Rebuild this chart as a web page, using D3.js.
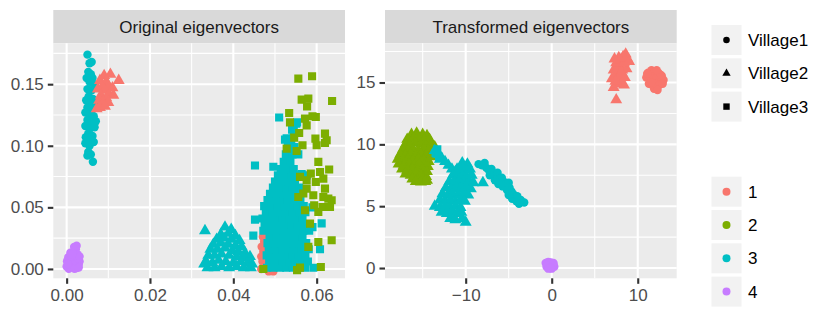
<!DOCTYPE html>
<html>
<head>
<meta charset="utf-8">
<script src="https://cdn.jsdelivr.net/npm/d3@7"></script>
<style>
  body { margin: 0; background: #fff; }
  text { font-family: "Liberation Sans", Arial, sans-serif; }
</style>
</head>
<body>
<svg id="chart" width="830" height="312"></svg>
<script>
// categories
var villages = ["Village1", "Village2", "Village3"];
var clusters = ["1", "2", "3", "4"];
var panelTitles = ["Original eigenvectors", "Transformed eigenvectors"];

// ticks
var origXTicks = [0, 0.02, 0.04, 0.06];
var origXMinor = [0.01, 0.03, 0.05];
var origYTicks = [0, 0.05, 0.10, 0.15];
var origYMinor = [0.025, 0.075, 0.125, 0.175];
var transXTicks = [-10, 0, 10];
var transXMinor = [-15, -5, 5];
var transYTicks = [0, 5, 10, 15];
var transYMinor = [2.5, 7.5, 12.5, 17.5];

// ---- original eigenvectors ----
var origV1C4 = [[0.0000,0.0020],[0.0006,0.0008],[0.0012,0.0030],[0.0018,0.0015],[0.0024,0.0008],[0.0029,0.0035],
  [0.0031,0.0060],[0.0001,0.0062],[0.0009,0.0052],[0.0016,0.0072],[0.0023,0.0060],[0.0028,0.0085],[0.0004,0.0095],
  [0.0012,0.0102],[0.0020,0.0110],[0.0026,0.0120],[0.0009,0.0132],[0.0017,0.0140],[0.0022,0.0160],[0.0018,0.0178],
  [0.0024,0.0188],[0.0031,0.0102],[0.0005,0.0002],[0.0019,0.0001],[0.0029,0.0012],[0.0014,0.0120],[0.0003,0.0040]];

var origV1C3 = [[0.0050,0.174],[0.0055,0.167],[0.0060,0.168],[0.0052,0.160],[0.0058,0.158],[0.0062,0.155],
  [0.0048,0.155],[0.0055,0.152],[0.0065,0.150],[0.0050,0.146],[0.0060,0.145],[0.0068,0.148],[0.0053,0.140],
  [0.0063,0.138],[0.0047,0.137],[0.0058,0.134],[0.0068,0.135],[0.0050,0.131],[0.0060,0.129],[0.0045,0.127],
  [0.0055,0.125],[0.0065,0.124],[0.0070,0.120],[0.0050,0.121],[0.0060,0.118],[0.0045,0.116],[0.0056,0.114],
  [0.0067,0.115],[0.0052,0.110],[0.0062,0.108],[0.0046,0.107],[0.0058,0.105],[0.0045,0.102],[0.0055,0.100],
  [0.0065,0.103],[0.0052,0.095],[0.0058,0.093],[0.0050,0.092],[0.0063,0.087]];

var origV2C1 = [[0.0090,0.157],[0.0105,0.158],[0.0080,0.153],[0.0095,0.152],[0.0125,0.153],[0.0100,0.149],
  [0.0085,0.148],[0.0110,0.147],[0.0075,0.146],[0.0092,0.145],[0.0102,0.142],[0.0082,0.141],[0.0112,0.141],
  [0.0095,0.139],[0.0078,0.137],[0.0088,0.136],[0.0100,0.135],[0.0085,0.133],[0.0072,0.130],[0.0080,0.131],
  [0.0092,0.132]];

var origV1C1 = [[0.0471,0.026],[0.0474,0.022],[0.0468,0.018],[0.0472,0.014],[0.0467,0.010],[0.0470,0.006],
  [0.0473,0.002],[0.0485,-0.002],[0.0496,-0.002],[0.0467,0.000]];

var origV2C3 = [[0.0332,0.031],[0.0380,0.034],[0.0395,0.032],[0.0370,0.028],[0.0388,0.029],[0.0405,0.027],
  [0.0360,0.024],[0.0378,0.025],[0.0395,0.024],[0.0415,0.023],[0.0352,0.020],[0.0370,0.021],[0.0388,0.020],
  [0.0405,0.019],[0.0420,0.018],[0.0345,0.016],[0.0362,0.016],[0.0380,0.017],[0.0398,0.015],[0.0412,0.014],
  [0.0428,0.013],[0.0340,0.011],[0.0355,0.011],[0.0372,0.012],[0.0390,0.011],[0.0408,0.010],[0.0425,0.009],
  [0.0440,0.010],[0.0335,0.006],[0.0350,0.005],[0.0365,0.007],[0.0382,0.006],[0.0400,0.005],[0.0418,0.006],
  [0.0435,0.005],[0.0445,0.004],[0.0338,0.001],[0.0355,0.001],[0.0372,0.002],[0.0390,0.001],[0.0408,0.002],
  [0.0425,0.001],[0.0442,0.001],[0.0330,0.004]];

var origV3C3 = [
  [0.0481,0.001],[0.0496,0.001],[0.0512,0.001],[0.0527,0.001],[0.0543,0.001],[0.0558,0.001],[0.0572,0.001],
  [0.0486,0.006],[0.0502,0.006],[0.0518,0.006],[0.0534,0.006],[0.0549,0.006],[0.0565,0.006],[0.0579,0.006],
  [0.0480,0.011],[0.0495,0.011],[0.0511,0.011],[0.0526,0.011],[0.0542,0.011],[0.0557,0.011],[0.0573,0.011],
  [0.0485,0.016],[0.0501,0.016],[0.0517,0.016],[0.0532,0.016],[0.0548,0.016],[0.0563,0.016],[0.0581,0.016],
  [0.0482,0.021],[0.0497,0.021],[0.0513,0.021],[0.0528,0.021],[0.0544,0.021],[0.0559,0.021],[0.0575,0.021],
  [0.0487,0.026],[0.0503,0.026],[0.0519,0.026],[0.0535,0.026],[0.0550,0.026],[0.0566,0.026],
  [0.0472,0.031],[0.0488,0.031],[0.0504,0.031],[0.0520,0.031],[0.0536,0.031],[0.0552,0.031],[0.0568,0.031],[0.0582,0.031],
  [0.0475,0.036],[0.0491,0.036],[0.0507,0.036],[0.0523,0.036],[0.0539,0.036],[0.0555,0.036],[0.0571,0.036],
  [0.0470,0.041],[0.0486,0.041],[0.0502,0.041],[0.0518,0.041],[0.0534,0.041],[0.0550,0.041],[0.0566,0.041],
  [0.0478,0.046],[0.0494,0.046],[0.0510,0.046],[0.0526,0.046],[0.0542,0.046],[0.0558,0.046],[0.0573,0.046],
  [0.0474,0.051],[0.0490,0.051],[0.0506,0.051],[0.0522,0.051],[0.0538,0.051],[0.0554,0.051],[0.0569,0.051],
  [0.0482,0.056],[0.0498,0.056],[0.0514,0.056],[0.0530,0.056],[0.0546,0.056],[0.0561,0.056],
  [0.0488,0.061],[0.0504,0.061],[0.0520,0.061],[0.0536,0.061],[0.0552,0.061],
  [0.0495,0.066],[0.0511,0.066],[0.0527,0.066],[0.0543,0.066],[0.0558,0.066],
  [0.0500,0.071],[0.0516,0.071],[0.0532,0.071],[0.0548,0.071],
  [0.0507,0.076],[0.0523,0.076],[0.0539,0.076],[0.0553,0.076],
  [0.0514,0.081],[0.0530,0.081],[0.0545,0.081],
  [0.0521,0.087],[0.0537,0.087],[0.0526,0.093],[0.0542,0.093],[0.0556,0.093],
  [0.0531,0.099],[0.0547,0.099],[0.0524,0.105],[0.0539,0.105],[0.0545,0.112],[0.0551,0.118],
  [0.0452,0.084],[0.0510,0.123],[0.0496,0.083],[0.0521,0.081],[0.0553,0.119],[0.0541,0.113],[0.0528,0.106],
  [0.0452,0.040],[0.0448,0.027],[0.0592,0.001],[0.0608,0.016],[0.0590,0.034],[0.0612,0.037],[0.0590,0.050],
  [0.0576,0.076],[0.0564,0.077]];

var origV3C2 = [[0.0556,0.1545],[0.0589,0.1564],[0.0637,0.1364],[0.0564,0.1375],[0.0580,0.1383],[0.0577,0.1320],
  [0.0534,0.1266],[0.0572,0.1220],[0.0590,0.1240],[0.0598,0.1234],[0.0536,0.1190],[0.0576,0.1166],[0.0558,0.1104],
  [0.0546,0.1066],[0.0528,0.0977],[0.0552,0.0958],[0.0566,0.1004],[0.0597,0.1058],[0.0600,0.1004],[0.0620,0.1099],
  [0.0624,0.1045],[0.0620,0.1023],[0.0604,0.0869],[0.0630,0.0807],[0.0586,0.0774],[0.0608,0.0787],[0.0616,0.0733],
  [0.0598,0.0706],[0.0576,0.0720],[0.0620,0.0652],[0.0628,0.0571],[0.0636,0.0558],[0.0616,0.0584],[0.0592,0.0598],
  [0.0568,0.0612],[0.0556,0.0584],[0.0572,0.0476],[0.0594,0.0517],[0.0604,0.0463],[0.0584,0.0368],[0.0636,0.0233],
  [0.0610,0.0016],[0.0604,0.0219],[0.0560,0.0011],[0.0580,0.0179],[0.0614,0.0503],[0.0560,0.0747],[0.0576,0.0652],
  [0.0632,0.0503],[0.0472,0.0000],[0.0553,-0.0010]];

// ---- transformed eigenvectors ----
var transV1C4 = [[-0.7,0.40],[-0.4,0.50],[-0.1,0.45],[0.2,0.30],[0.3,0.10],[-0.6,0.10],[-0.3,0.00],[0.0,-0.05],
  [-0.5,0.30],[-0.2,0.20],[0.1,0.15],[-0.4,-0.05],[0.2,0.40],[-0.1,0.00]];

var transV1C1 = [[11.2,15.8],[11.6,16.0],[12.0,15.9],[12.4,15.8],[12.8,15.5],[13.0,15.2],[11.0,15.4],[11.4,15.3],
  [11.8,15.5],[12.2,15.4],[12.6,15.2],[11.3,14.9],[11.7,14.8],[12.1,14.9],[12.5,14.8],[12.9,14.9],[11.9,14.5],
  [12.3,14.4],[11.6,15.0],[12.7,15.6],[11.1,15.7],[12.2,16.0]];

var transV2C1 = [[7.5,13.6],[7.2,14.6],[7.6,14.9],[8.0,15.0],[8.4,14.8],[7.0,15.3],[7.4,15.6],[7.9,15.5],[8.5,15.4],
  [7.2,16.0],[7.7,16.2],[8.2,16.0],[8.7,16.1],[7.5,16.6],[8.0,16.8],[8.4,16.6],[8.8,16.9],[8.6,17.3],[9.0,16.7],
  [8.3,17.1],[7.8,17.0],[7.3,16.9],[8.1,15.8],[7.4,15.1]];

var transV2C2 = [
  [-16.3,10.8],[-15.7,10.9],[-15.0,10.8],[-14.5,10.7],
  [-16.8,10.4],[-16.0,10.5],[-15.4,10.4],[-14.8,10.3],[-14.2,10.4],
  [-17.0,10.0],[-16.5,9.9],[-15.9,10.1],[-15.2,10.0],[-14.6,9.9],[-14.0,10.0],[-13.6,9.8],
  [-17.3,9.6],[-16.7,9.5],[-16.1,9.6],[-15.5,9.5],[-14.9,9.6],[-14.3,9.5],[-13.8,9.4],
  [-17.6,9.2],[-17.0,9.1],[-16.4,9.2],[-15.8,9.1],[-15.2,9.2],[-14.6,9.1],[-14.1,9.0],
  [-17.9,8.8],[-17.3,8.7],[-16.7,8.8],[-16.1,8.7],[-15.5,8.8],[-14.9,8.7],[-14.3,8.6],
  [-17.8,8.4],[-17.2,8.3],[-16.6,8.4],[-16.0,8.3],[-15.4,8.4],[-14.8,8.3],[-14.4,8.2],
  [-17.4,8.0],[-16.8,7.9],[-16.2,8.0],[-15.6,7.9],[-15.0,8.0],[-14.5,7.8],
  [-17.0,7.6],[-16.4,7.5],[-15.8,7.6],[-15.2,7.5],[-14.6,7.4],
  [-16.2,7.2],[-15.6,7.1],[-15.0,7.2],[-14.5,7.1],[-15.8,7.0],[-15.2,6.95],[-14.7,7.0]];

var transV2C3 = [
  [-13.6,9.5],[-13.2,9.2],[-12.8,8.9],[-12.4,8.6],[-12.0,8.3],[-11.6,8.0],[-11.2,7.8],[-10.8,7.6],[-13.0,8.8],
  [-10.4,8.5],[-9.8,8.4],
  [-11.0,8.0],[-10.5,8.0],[-10.0,7.9],[-9.5,8.0],
  [-11.5,7.5],[-11.0,7.4],[-10.4,7.5],[-9.9,7.4],[-9.3,7.5],
  [-11.9,7.0],[-11.3,6.9],[-10.8,7.0],[-10.2,6.9],[-9.6,7.0],[-9.1,6.9],
  [-12.3,6.5],[-11.7,6.4],[-11.1,6.5],[-10.5,6.4],[-10.0,6.5],[-9.4,6.4],
  [-12.7,6.0],[-12.1,5.9],[-11.5,6.0],[-10.9,5.9],[-10.3,6.0],[-9.7,5.9],
  [-13.0,5.5],[-12.4,5.4],[-11.8,5.5],[-11.2,5.4],[-10.6,5.5],[-10.1,5.4],
  [-13.6,5.0],[-13.0,4.9],[-12.4,5.0],[-11.8,4.9],[-11.2,5.0],[-10.6,4.9],
  [-12.8,4.5],[-12.2,4.4],[-11.6,4.5],[-11.0,4.4],[-10.5,4.5],
  [-11.8,4.0],[-11.2,3.9],[-10.4,4.0],[-10.0,3.7],[-8.0,6.9]];

var transV3C3 = [[-13.5,9.3],[-13.1,9.0],[-13.3,9.6]];

var transV1C3 = [[-8.5,8.4],[-8.1,8.3],[-7.8,8.5],[-7.6,8.1],[-7.3,7.9],[-7.0,8.0],[-6.8,7.6],[-6.5,7.5],
  [-6.3,7.7],[-6.1,7.2],[-5.8,7.3],[-5.6,7.0],[-5.3,6.8],[-5.0,6.9],[-4.9,6.5],[-5.7,6.6],[-6.2,6.8],[-4.7,6.2],
  [-4.5,6.0],[-4.3,5.7],[-4.6,5.6],[-4.1,5.4],[-3.8,5.2],[-3.2,5.3],[-3.6,5.5],[-5.2,6.3],[-6.6,7.1],[-7.2,7.5],
  [-5.0,5.9],[-4.0,5.8]];

// layers in drawing order
var layers = [
  {panel: 0, village: "Village1", cluster: "4", pts: origV1C4},
  {panel: 0, village: "Village1", cluster: "3", pts: origV1C3},
  {panel: 0, village: "Village2", cluster: "1", pts: origV2C1},
  {panel: 0, village: "Village1", cluster: "1", pts: origV1C1},
  {panel: 0, village: "Village2", cluster: "3", pts: origV2C3},
  {panel: 0, village: "Village3", cluster: "3", pts: origV3C3},
  {panel: 0, village: "Village3", cluster: "2", pts: origV3C2},
  {panel: 1, village: "Village1", cluster: "4", pts: transV1C4},
  {panel: 1, village: "Village1", cluster: "1", pts: transV1C1},
  {panel: 1, village: "Village2", cluster: "1", pts: transV2C1},
  {panel: 1, village: "Village2", cluster: "2", pts: transV2C2},
  {panel: 1, village: "Village2", cluster: "3", pts: transV2C3},
  {panel: 1, village: "Village3", cluster: "3", pts: transV3C3},
  {panel: 1, village: "Village1", cluster: "3", pts: transV1C3}
];

var color = d3.scaleOrdinal().domain(clusters)
  .range(["#F8766D", "#7CAE00", "#00BFC4", "#C77CFF"]);
var shape = d3.scaleOrdinal().domain(villages)
  .range([d3.symbolCircle, d3.symbolTriangle, d3.symbolSquare]);
var pointSize = d3.scaleOrdinal().domain(villages).range([56, 62, 66]);
var keySize = d3.scaleOrdinal().domain(villages).range([34, 30, 41]);

var TOP = 43.3, BOTTOM = 278.3, STRIP_TOP = 10;
var FONT = 17;

var panels = [
  {
    title: panelTitles[0],
    x: d3.scaleLinear().domain([-0.0032, 0.0668]).range([53.3, 345]),
    y: d3.scaleLinear().domain([-0.0076, 0.1832]).range([BOTTOM, TOP]),
    xt: origXTicks, xm: origXMinor, yt: origYTicks, ym: origYMinor,
    xf: d3.format(".2f"), yf: d3.format(".2f")
  },
  {
    title: panelTitles[1],
    x: d3.scaleLinear().domain([-19.38, 14.53]).range([385, 676.7]),
    y: d3.scaleLinear().domain([-0.83, 18.17]).range([BOTTOM, TOP]),
    xt: transXTicks, xm: transXMinor, yt: transYTicks, ym: transYMinor,
    xf: d3.format("d"), yf: d3.format("d")
  }
];

var svg = d3.select("#chart");

panels.forEach(function(p, i) {
  var x0 = p.x.range()[0], x1 = p.x.range()[1];
  var g = svg.append("g");

  // strip
  g.append("rect")
    .attr("x", x0).attr("y", STRIP_TOP)
    .attr("width", x1 - x0).attr("height", TOP - STRIP_TOP)
    .attr("fill", "#D9D9D9");
  g.append("text")
    .attr("x", (x0 + x1) / 2).attr("y", (STRIP_TOP + TOP) / 2)
    .attr("dy", "0.36em")
    .attr("text-anchor", "middle")
    .attr("font-size", FONT)
    .attr("fill", "#1A1A1A")
    .text(p.title);

  // panel background
  g.append("rect")
    .attr("x", x0).attr("y", TOP)
    .attr("width", x1 - x0).attr("height", BOTTOM - TOP)
    .attr("fill", "#EBEBEB");

  // grid
  var grid = g.append("g").attr("stroke", "#fff");
  grid.selectAll(".vm").data(p.xm).enter().append("line")
    .attr("x1", p.x).attr("x2", p.x).attr("y1", TOP).attr("y2", BOTTOM)
    .attr("stroke-width", 1.05);
  grid.selectAll(".hm").data(p.ym).enter().append("line")
    .attr("y1", p.y).attr("y2", p.y).attr("x1", x0).attr("x2", x1)
    .attr("stroke-width", 1.05);
  grid.selectAll(".vM").data(p.xt).enter().append("line")
    .attr("x1", p.x).attr("x2", p.x).attr("y1", TOP).attr("y2", BOTTOM)
    .attr("stroke-width", 2.1);
  grid.selectAll(".hM").data(p.yt).enter().append("line")
    .attr("y1", p.y).attr("y2", p.y).attr("x1", x0).attr("x2", x1)
    .attr("stroke-width", 2.1);

  // points
  svg.append("clipPath").attr("id", "clip" + i)
    .append("rect").attr("x", x0).attr("y", TOP)
    .attr("width", x1 - x0).attr("height", BOTTOM - TOP);
  var pg = g.append("g").attr("clip-path", "url(#clip" + i + ")");
  layers.filter(function(l) { return l.panel === i; }).forEach(function(l) {
    var sym = d3.symbol().type(shape(l.village)).size(pointSize(l.village));
    pg.append("g").selectAll("path").data(l.pts).enter().append("path")
      .attr("transform", function(d) { return "translate(" + p.x(d[0]) + "," + p.y(d[1]) + ")"; })
      .attr("d", sym)
      .attr("fill", color(l.cluster));
  });

  // axes
  var xAxis = d3.axisBottom(p.x).tickValues(p.xt).tickFormat(p.xf)
    .tickSize(5.5).tickPadding(5);
  var ax = g.append("g").attr("transform", "translate(0," + BOTTOM + ")").call(xAxis);
  var yAxis = d3.axisLeft(p.y).tickValues(p.yt).tickFormat(p.yf)
    .tickSize(5.5).tickPadding(4);
  var ay = g.append("g").attr("transform", "translate(" + x0 + ",0)").call(yAxis);
  [ax, ay].forEach(function(a) {
    a.select(".domain").remove();
    a.selectAll(".tick line").attr("stroke", "#333333").attr("stroke-width", 2.1);
    a.selectAll(".tick text").attr("fill", "#4D4D4D")
      .attr("font-size", FONT).attr("font-family", "Liberation Sans, Arial, sans-serif");
  });
  ax.selectAll(".tick text").attr("dy", "0.72em");
});

// legends
var KEY_X = 711.5, KEY = 30, STEP = 33.3, TEXT_X = 748;
var shapeLeg = svg.append("g").selectAll("g").data(villages).enter().append("g")
  .attr("transform", function(d, i) { return "translate(" + KEY_X + "," + (25 + i * STEP) + ")"; });
shapeLeg.append("rect").attr("width", KEY).attr("height", KEY).attr("fill", "#F2F2F2");
shapeLeg.append("path")
  .attr("transform", "translate(" + KEY / 2 + "," + KEY / 2 + ")")
  .attr("d", function(d) { return d3.symbol().type(shape(d)).size(keySize(d))(); })
  .attr("fill", "#000");
shapeLeg.append("text")
  .attr("x", TEXT_X - KEY_X).attr("y", KEY / 2).attr("dy", "0.36em")
  .attr("font-size", FONT).attr("fill", "#000")
  .text(function(d) { return d; });

var colorLeg = svg.append("g").selectAll("g").data(clusters).enter().append("g")
  .attr("transform", function(d, i) { return "translate(" + KEY_X + "," + (176.7 + i * STEP) + ")"; });
colorLeg.append("rect").attr("width", KEY).attr("height", KEY).attr("fill", "#F2F2F2");
colorLeg.append("path")
  .attr("transform", "translate(" + KEY / 2 + "," + KEY / 2 + ")")
  .attr("d", d3.symbol().type(d3.symbolCircle).size(50))
  .attr("fill", function(d) { return color(d); });
colorLeg.append("text")
  .attr("x", TEXT_X - KEY_X).attr("y", KEY / 2).attr("dy", "0.36em")
  .attr("font-size", FONT).attr("fill", "#000")
  .text(function(d) { return d; });
</script>
</body>
</html>
